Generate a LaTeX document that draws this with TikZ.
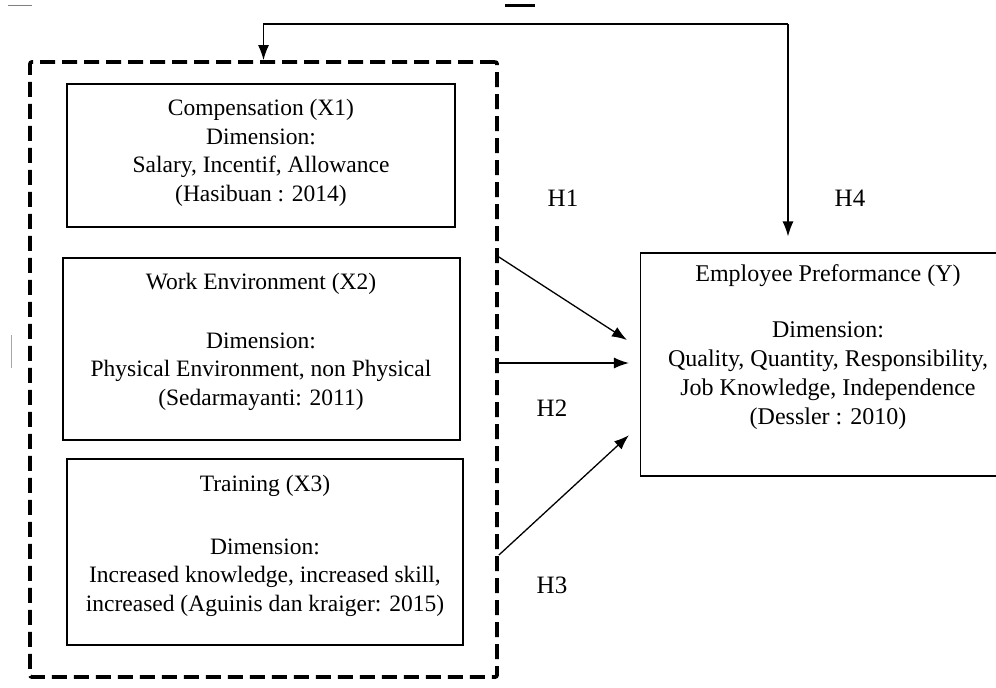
\documentclass[tikz,border=0pt]{standalone}
\usepackage{fontspec}
\setmainfont{Liberation Serif}
\usetikzlibrary{arrows.meta,calc}
\begin{document}
\begin{tikzpicture}[x=1pt,y=-1pt,
  box/.style={draw, line width=1.1pt, rectangle, inner sep=0pt},
  grpbox/.style={draw, line width=3.8pt, dash pattern=on 15pt off 7pt, rounded corners=2pt, rectangle, inner sep=0pt},
  txt/.style={align=center, font=\fontsize{23.5}{28.5}\selectfont, inner sep=0pt},
  etxt/.style={align=center, font=\fontsize{24}{29}\selectfont, inner sep=0pt},
  hlab/.style={font=\fontsize{25}{28}\selectfont, inner sep=0pt},
  arr/.style={-{Latex[length=15pt,width=11pt]}, line width=1.3pt},
  ]
\fill[white] (0,0) rectangle (996,688);
\useasboundingbox (0,0) rectangle (996,688);

% scan marks
\draw[gray, line width=1pt] (8,5) -- (32,5);
\draw[black, line width=3pt] (505,5) -- (535,5);
\draw[gray!70, line width=0.8pt] (11,335) -- (11,368);

% group (dashed)
\node[grpbox, minimum width=467pt, minimum height=615pt] (grp) at (263.5,369.5) {};

% boxes
\node[box, minimum width=388pt, minimum height=143pt] (c1) at (261,155.5) {};
\node[box, minimum width=397pt, minimum height=182pt] (c2) at (261.5,349) {};
\node[box, minimum width=396pt, minimum height=186pt] (c3) at (265,552) {};
\node[box, minimum width=379pt, minimum height=223pt] (emp) at (830,364.5) {};

% texts
\node[txt] (c1t) at (261,153) {Compensation (X1)\\Dimension:\\Salary, Incentif, Allowance\\(Hasibuan : 2014)};
\node[txt] (c2t) at (261,342) {Work Environment (X2)\\[30pt]Dimension:\\Physical Environment, non Physical\\(Sedarmayanti: 2011)};
\node[txt] (c3t) at (265,546) {Training (X3)\\[34pt]Dimension:\\Increased knowledge, increased skill,\\increased (Aguinis dan kraiger: 2015)};
\node[etxt] (empt) at (828,347) {Employee Preformance (Y)\\[27pt]Dimension:\\Quality, Quantity, Responsibility,\\Job Knowledge, Independence\\(Dessler : 2010)};

% hypothesis labels
\node[hlab] (h1) at (563,198) {H1};
\node[hlab] (h4) at (850,198) {H4};
\node[hlab] (h2) at (552,408) {H2};
\node[hlab] (h3) at (552,585) {H3};

% connectors
\coordinate (tr) at (788,24);
\draw[arr, shorten >=16pt] (tr) -- (tr |- emp.north);
\draw[arr] (tr) -| (grp.north);
\draw[arr, shorten >=15.5pt] (grp.east |- 0,257) -- (emp.west |- 0,348.4);
\draw[arr, shorten >=11pt] (grp.east |- 0,363) -- (emp.west |- 0,363);
\draw[arr, shorten >=15pt] (grp.east |- 0,555) -- (emp.west |- 0,425);
\end{tikzpicture}
\end{document}
